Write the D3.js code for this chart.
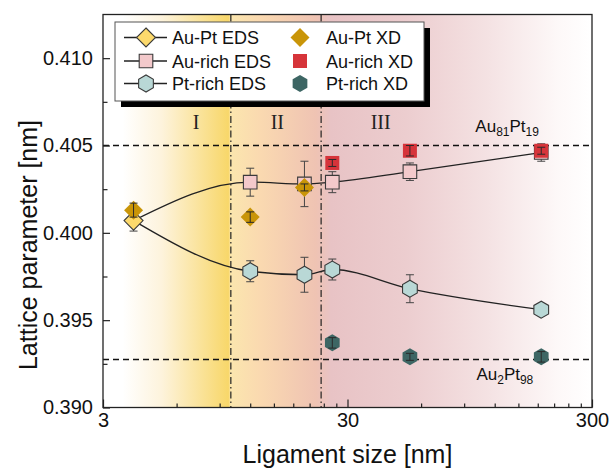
<!DOCTYPE html>
<html>
<head>
<meta charset="utf-8">
<script src="https://cdn.jsdelivr.net/npm/d3@7"></script>
<style>
  html, body { margin: 0; padding: 0; background: #fff; }
  svg { display: block; font-family: "Liberation Sans", Arial, Helvetica, sans-serif; }
</style>
</head>
<body>
<svg id="chart" width="610" height="469"></svg>
<script>
// Ligament sizes (nm) and lattice parameters (nm) with error bars
const auPtEdsX = [4];
const auPtEdsY = [0.4007];
const auPtEdsErr = [0.0006];

const auPtXdX = [4, 12, 20];
const auPtXdY = [0.4013, 0.4009, 0.4026];
const auPtXdErr = [0.0004, 0.0003, 0.0002];

const auRichEdsX = [12, 20, 26, 54, 186];
const auRichEdsY = [0.4029, 0.4028, 0.4029, 0.4035, 0.4046];
const auRichEdsErr = [0.0008, 0.0013, 0.0006, 0.0005, 0.0005];

const auRichXdX = [26, 54, 186];
const auRichXdY = [0.4040, 0.4047, 0.4047];
const auRichXdErr = [0.0002, 0.0003, 0.0002];

const ptRichEdsX = [12, 20, 26, 54, 186];
const ptRichEdsY = [0.3978, 0.3976, 0.3979, 0.3968, 0.3956];
const ptRichEdsErr = [0.0006, 0.0010, 0.0006, 0.0008, 0.0003];

const ptRichXdX = [26, 54, 186];
const ptRichXdY = [0.3937, 0.3929, 0.3929];
const ptRichXdErr = [0.0003, 0.0002, 0.0003];

// Axis ticks
const xMajorTicks = [3, 30, 300];
const xMinorTicks = [6, 9, 12, 15, 18, 21, 24, 27, 60, 90, 120, 150, 180, 210, 240, 270];
const yMajorTicks = [0.390, 0.395, 0.400, 0.405, 0.410];
const yMinorTicks = [0.3925, 0.3975, 0.4025, 0.4075];

// Regime boundaries and labels
const regimeBounds = [10, 23.4];
const regimeLabels = ["I", "II", "III"];
const regimeLabelX = [7.2, 15.5, 41];

// Reference compositions
const refValues = [0.405, 0.39275];
const refMain = [["Au", "81", "Pt", "19"], ["Au", "2", "Pt", "98"]];
const refLabelX = [100, 101];

const svg = d3.select("#chart");
const L = 103, R = 592, T = 14.5, B = 407.5;

const x = d3.scaleLog().domain([3, 300]).range([L, R]);
const y = d3.scaleLinear().domain([0.390, 0.4125]).range([B, T]);

// Background shading across the three regimes
const defs = svg.append("defs");
const grad = defs.append("linearGradient")
  .attr("id", "bg").attr("gradientUnits", "userSpaceOnUse")
  .attr("x1", L).attr("x2", R).attr("y1", 0).attr("y2", 0);
const b1 = (x(regimeBounds[0]) - L) / (R - L);
const b2 = (x(regimeBounds[1]) - L) / (R - L);
[
  [0, "#ffffff"], [0.04, "#ffffff"], [0.12, "#fdf3dc"], [b1 - 0.005, "#f8d76a"],
  [b1, "#fbe6ae"], [b1 + 0.06, "#fad9b0"], [b2 - 0.01, "#efc3b3"],
  [b2 + 0.02, "#e8c3c5"], [0.62, "#eccdcf"], [0.78, "#f4e1e2"],
  [0.93, "#fdf8f8"], [1, "#ffffff"]
].forEach(([o, c]) => grad.append("stop").attr("offset", o).attr("stop-color", c));

svg.append("rect").attr("x", L).attr("y", T).attr("width", R - L).attr("height", B - T)
  .attr("fill", "url(#bg)");

// Regime boundaries (dash-dot)
svg.append("g").selectAll("line").data(regimeBounds).join("line")
  .attr("x1", d => x(d)).attr("x2", d => x(d)).attr("y1", T).attr("y2", B)
  .attr("stroke", "#222").attr("stroke-width", 1.2).attr("stroke-dasharray", "7,3,1.5,3");

// Reference composition lines (dashed)
svg.append("g").selectAll("line").data(refValues).join("line")
  .attr("x1", L).attr("x2", R).attr("y1", d => y(d)).attr("y2", d => y(d))
  .attr("stroke", "#111").attr("stroke-width", 1.5).attr("stroke-dasharray", "6,4");

// Regime labels
svg.append("g").selectAll("text").data(regimeLabels).join("text")
  .attr("x", (d, i) => x(regimeLabelX[i])).attr("y", 129)
  .attr("text-anchor", "middle")
  .attr("font-family", "'Liberation Serif', 'Times New Roman', serif")
  .attr("font-size", 20).attr("fill", "#222").text(d => d);

// Composition labels with subscripts
refMain.forEach((parts, i) => {
  const t = svg.append("text")
    .attr("x", x(refLabelX[i]))
    .attr("y", i === 0 ? y(refValues[i]) - 14 : y(refValues[i]) + 21)
    .attr("font-size", 17).attr("fill", "#111");
  parts.forEach((p, j) => {
    const sub = j % 2 === 1;
    t.append("tspan").text(p)
      .attr("font-size", sub ? 12 : 17)
      .attr("dy", sub ? 4 : (j === 0 ? 0 : -4));
  });
});

// Fit curves through the EDS data
const line = d3.line().x(d => x(d[0])).y(d => y(d[1])).curve(d3.curveMonotoneX);
const auCurve = [[auPtEdsX[0], auPtEdsY[0]]].concat(auRichEdsX.map((v, i) => [v, auRichEdsY[i]]));
const ptCurve = [[auPtEdsX[0], auPtEdsY[0]]].concat(ptRichEdsX.map((v, i) => [v, ptRichEdsY[i]]));
[auCurve, ptCurve].forEach(c => svg.append("path").attr("d", line(c))
  .attr("fill", "none").attr("stroke", "#222").attr("stroke-width", 1.3));

// Marker shapes
function diamond(r) { return `M0,${-r}L${r},0L0,${r}L${-r},0Z`; }
function square(s) { return `M${-s},${-s}H${s}V${s}H${-s}Z`; }
function hexagon(r) {
  const pts = d3.range(6).map(k => {
    const a = Math.PI / 2 + k * Math.PI / 3;
    return [r * Math.cos(a), r * Math.sin(a)];
  });
  return "M" + pts.map(p => p.join(",")).join("L") + "Z";
}

function errorBars(g, xs, ys, es, color, width) {
  xs.forEach((v, i) => {
    const cx = x(v), y0 = y(ys[i] - es[i]), y1 = y(ys[i] + es[i]);
    const eg = g.append("g").attr("stroke", color).attr("stroke-width", width);
    eg.append("line").attr("x1", cx).attr("x2", cx).attr("y1", y0).attr("y2", y1);
    eg.append("line").attr("x1", cx - 4).attr("x2", cx + 4).attr("y1", y0).attr("y2", y0);
    eg.append("line").attr("x1", cx - 4).attr("x2", cx + 4).attr("y1", y1).attr("y2", y1);
  });
}

function markers(g, xs, ys, path, fill, stroke) {
  g.selectAll(null).data(xs).join("path")
    .attr("d", path)
    .attr("transform", (d, i) => `translate(${x(d)},${y(ys[i])})`)
    .attr("fill", fill).attr("stroke", stroke).attr("stroke-width", stroke === "none" ? 0 : 1.1);
}

const series = [
  { xs: auPtEdsX, ys: auPtEdsY, es: auPtEdsErr, path: diamond(9.5), fill: "#fcd96c", stroke: "#3a3a3a", xd: false },
  { xs: auRichEdsX, ys: auRichEdsY, es: auRichEdsErr, path: square(6.8), fill: "#f3c9cb", stroke: "#3a3a3a", xd: false },
  { xs: ptRichEdsX, ys: ptRichEdsY, es: ptRichEdsErr, path: hexagon(8.5), fill: "#b9d8d6", stroke: "#3a3a3a", xd: false },
  { xs: auPtXdX, ys: auPtXdY, es: auPtXdErr, path: diamond(9.5), fill: "#c99508", stroke: "none", xd: true },
  { xs: auRichXdX, ys: auRichXdY, es: auRichXdErr, path: square(7), fill: "#d6343a", stroke: "none", xd: true },
  { xs: ptRichXdX, ys: ptRichXdY, es: ptRichXdErr, path: hexagon(8.5), fill: "#3d6664", stroke: "none", xd: true }
];

const marks = svg.append("g");
series.forEach(s => {
  const g = marks.append("g");
  if (!s.xd) errorBars(g, s.xs, s.ys, s.es, "#444", 1);
  markers(g, s.xs, s.ys, s.path, s.fill, s.stroke);
  if (s.xd) errorBars(g, s.xs, s.ys, s.es, "#2a2a2a", 1);
});

// Axes (ticks pointing inward)
const xAxis = d3.axisBottom(x).tickValues(xMajorTicks).tickFormat(d3.format("d"))
  .tickSize(-8).tickPadding(5);
const gx = svg.append("g").attr("transform", `translate(0,${B})`).call(xAxis);
gx.select(".domain").remove();
gx.selectAll("text").attr("font-size", 20).attr("fill", "#111").attr("font-family", null);
gx.selectAll("line").attr("stroke", "#222").attr("stroke-width", 1.2);

const gxm = svg.append("g").attr("transform", `translate(0,${B})`)
  .call(d3.axisBottom(x).tickValues(xMinorTicks).tickFormat("").tickSize(-4));
gxm.select(".domain").remove();
gxm.selectAll("line").attr("stroke", "#222").attr("stroke-width", 1.2);

const yAxis = d3.axisLeft(y).tickValues(yMajorTicks).tickFormat(d3.format(".3f"))
  .tickSize(-7).tickPadding(10);
const gy = svg.append("g").attr("transform", `translate(${L},0)`).call(yAxis);
gy.select(".domain").remove();
gy.selectAll("text").attr("font-size", 20).attr("fill", "#111").attr("font-family", null);
gy.selectAll("line").attr("stroke", "#222").attr("stroke-width", 1.2);

const gym = svg.append("g").attr("transform", `translate(${L},0)`)
  .call(d3.axisLeft(y).tickValues(yMinorTicks).tickFormat("").tickSize(-4.5));
gym.select(".domain").remove();
gym.selectAll("line").attr("stroke", "#222").attr("stroke-width", 1.2);

// Frame
svg.append("rect").attr("x", L).attr("y", T).attr("width", R - L).attr("height", B - T)
  .attr("fill", "none").attr("stroke", "#222").attr("stroke-width", 1.3);

// Axis titles
svg.append("text").attr("x", (L + R) / 2).attr("y", 463).attr("text-anchor", "middle")
  .attr("font-size", 25).attr("fill", "#111").text("Ligament size [nm]");
svg.append("text").attr("transform", "translate(37,245) rotate(-90)").attr("text-anchor", "middle")
  .attr("font-size", 25).attr("fill", "#111").text("Lattice parameter [nm]");

// Legend
const leg = svg.append("g");
leg.append("rect").attr("x", 121).attr("y", 28).attr("width", 309).attr("height", 79).attr("fill", "#000");
leg.append("rect").attr("x", 115).attr("y", 22).attr("width", 309).attr("height", 79)
  .attr("fill", "#fff").attr("stroke", "#555").attr("stroke-width", 1);
const legendNames = ["Au-Pt EDS", "Au-rich EDS", "Pt-rich EDS", "Au-Pt XD", "Au-rich XD", "Pt-rich XD"];
const legendOrder = [0, 1, 2, 3, 4, 5];
const rowY = [37.5, 61, 83.5];
legendOrder.forEach((si, k) => {
  const s = series[si];
  const col = k < 3 ? 0 : 1, row = k % 3;
  const mx = col === 0 ? 146 : 300, cy = rowY[row];
  if (!s.xd) leg.append("line").attr("x1", 124).attr("x2", 167).attr("y1", cy).attr("y2", cy)
    .attr("stroke", "#222").attr("stroke-width", 1.3);
  leg.append("path").attr("d", s.path).attr("transform", `translate(${mx},${cy})`)
    .attr("fill", s.fill).attr("stroke", s.stroke).attr("stroke-width", s.stroke === "none" ? 0 : 1.1);
  leg.append("text").attr("x", col === 0 ? 172 : 326).attr("y", cy + 6.5)
    .attr("font-size", 18).attr("fill", "#111").text(legendNames[si]);
});
</script>
</body>
</html>
